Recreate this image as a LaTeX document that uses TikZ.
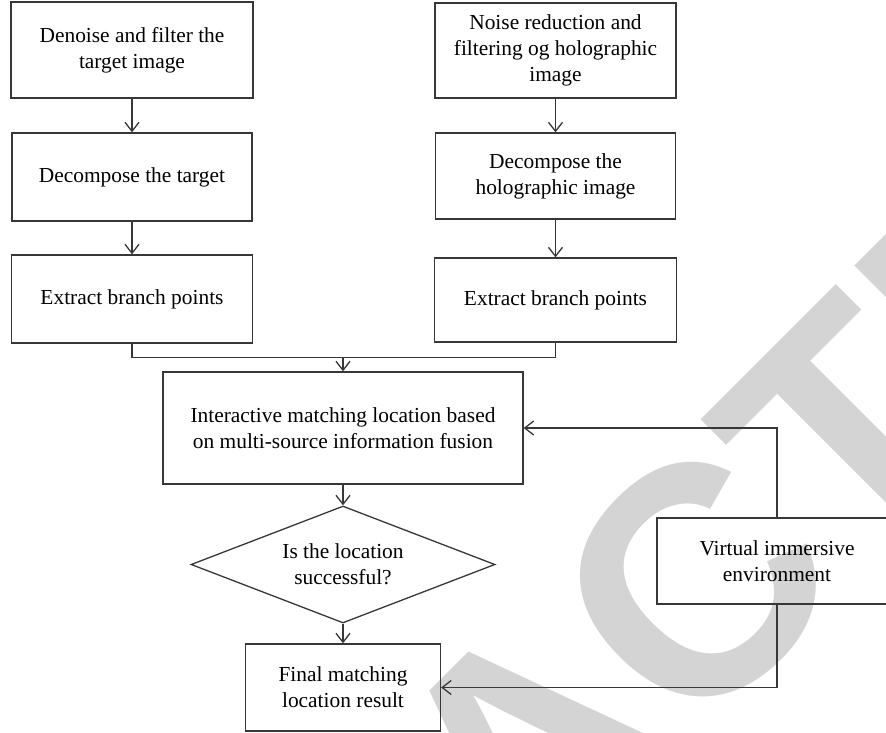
\documentclass[tikz,border=0pt]{standalone}
\usepackage{fontspec}
\setmainfont{Liberation Serif}
\newfontfamily\stampfont{Liberation Sans}
\usetikzlibrary{positioning, shapes.geometric, arrows.meta}

\definecolor{linegray}{RGB}{55,55,55}
\definecolor{stampgray}{RGB}{212,212,212}

\tikzset{
    block/.style={draw=linegray, line width=1.3pt, align=center, inner sep=0pt,
        font=\fontsize{21.4}{26}\selectfont},
    decision/.style={block, diamond, shape aspect=2.6},
    link/.style={draw=linegray, line width=1.3pt},
    arrow/.style={link, -{Straight Barb[length=9pt, width=14pt]}},
}

\begin{document}
\begin{tikzpicture}[x=1pt, y=-1pt]

    \useasboundingbox (0,0) rectangle (886,733);

    \node[rotate=45, anchor=base, text=stampgray, inner sep=0pt,
        font=\stampfont\bfseries\fontsize{325}{325}\selectfont] (stamp) at (608,829) {RETRACTED};

    \node[block, minimum width=242pt, minimum height=96pt] (denoise) at (132,50) {Denoise and filter the\\target image};
    \node[block, minimum width=240pt, minimum height=88pt] (decompose) at (132,177) {Decompose the target};
    \node[block, minimum width=241pt, minimum height=88pt] (extract) at (132,299) {Extract branch points};

    \node[block, minimum width=241pt, minimum height=95pt] (noise) at (555.5,50.5) {Noise reduction and\\filtering og holographic\\image};
    \node[block, minimum width=240pt, minimum height=86pt] (holo) at (555.5,176) {Decompose the\\holographic image};
    \node[block, minimum width=242pt, minimum height=84pt] (points) at (555.5,300) {Extract branch points};

    \node[block, minimum width=360pt, minimum height=112pt] (fusion) at (343,428) {Interactive matching location based\\on multi-source information fusion};
    \node[decision, minimum width=304pt, minimum height=117pt] (check) at (343,564.5) {Is the location\\successful?};
    \node[block, minimum width=195pt, minimum height=87pt] (result) at (343,687.5) {Final matching\\location result};

    \node[block, minimum width=240pt, minimum height=86pt] (virtual) at (777,561) {Virtual immersive\\environment};

    \coordinate (merge) at (343,357);

    \draw[arrow] (denoise) -- (decompose);
    \draw[arrow] (decompose) -- (extract);
    \draw[arrow] (noise) -- (holo);
    \draw[arrow] (holo) -- (points);

    \draw[link] (extract.south) -- ++(0,14) -| (points.south);
    \draw[arrow] (merge) -- (fusion);
    \draw[arrow] (fusion) -- (check);
    \draw[arrow] (check) -- (result);

    \draw[arrow] (virtual.north) |- (fusion.east);
    \draw[arrow] (virtual.south) |- (result.east);

\end{tikzpicture}
\end{document}
